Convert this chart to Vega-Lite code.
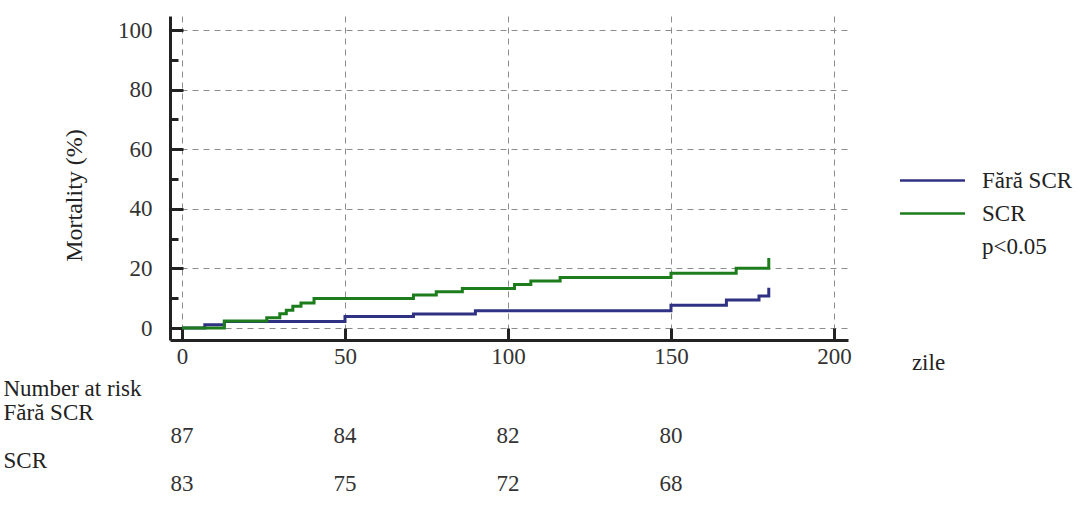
{
  "$schema": "https://vega.github.io/schema/vega-lite/v6.json",
  "background": "white",
  "padding": {"left": 3, "top": 16, "right": 0, "bottom": 0},
  "autosize": {"type": "pad"},
  "bounds": "flush",
  "spacing": 36,
  "config": {"view": {"stroke": null}, "font": "Liberation Serif, DejaVu Serif, serif"},
  "datasets": {
    "km": [
      {"group": "Fără SCR", "day": 0, "pct": 0},
      {"group": "Fără SCR", "day": 7, "pct": 1.1},
      {"group": "Fără SCR", "day": 13, "pct": 2.2},
      {"group": "Fără SCR", "day": 50, "pct": 3.9},
      {"group": "Fără SCR", "day": 71, "pct": 4.7},
      {"group": "Fără SCR", "day": 90, "pct": 5.8},
      {"group": "Fără SCR", "day": 150, "pct": 7.7},
      {"group": "Fără SCR", "day": 167, "pct": 9.4},
      {"group": "Fără SCR", "day": 177, "pct": 10.8},
      {"group": "Fără SCR", "day": 180, "pct": 13.5},
      {"group": "SCR", "day": 0, "pct": 0},
      {"group": "SCR", "day": 13, "pct": 2.4},
      {"group": "SCR", "day": 26, "pct": 3.5},
      {"group": "SCR", "day": 30, "pct": 4.8},
      {"group": "SCR", "day": 32, "pct": 6.0},
      {"group": "SCR", "day": 34, "pct": 7.3},
      {"group": "SCR", "day": 36.5, "pct": 8.4},
      {"group": "SCR", "day": 40.5, "pct": 9.9},
      {"group": "SCR", "day": 71, "pct": 11.1},
      {"group": "SCR", "day": 78, "pct": 12.2},
      {"group": "SCR", "day": 86, "pct": 13.3},
      {"group": "SCR", "day": 102, "pct": 14.6},
      {"group": "SCR", "day": 107, "pct": 15.8},
      {"group": "SCR", "day": 116, "pct": 17.0},
      {"group": "SCR", "day": 150, "pct": 18.4},
      {"group": "SCR", "day": 170, "pct": 20.1},
      {"group": "SCR", "day": 180, "pct": 23.5}
    ],
    "risk": [
      {"row": "n1", "day": 0, "n": 87},
      {"row": "n1", "day": 50, "n": 84},
      {"row": "n1", "day": 100, "n": 82},
      {"row": "n1", "day": 150, "n": 80},
      {"row": "n2", "day": 0, "n": 83},
      {"row": "n2", "day": 50, "n": 75},
      {"row": "n2", "day": 100, "n": 72},
      {"row": "n2", "day": 150, "n": 68}
    ]
  },
  "vconcat": [
    {
      "width": 678,
      "height": 324,
      "data": {"name": "km"},
      "mark": {"type": "line", "interpolate": "step-after", "strokeWidth": 3},
      "encoding": {
        "x": {
          "field": "day",
          "type": "quantitative",
          "scale": {"domain": [-3.68, 204.3], "nice": false, "zero": false},
          "axis": {
            "values": [0, 50, 100, 150, 200],
            "tickSize": -12,
            "tickWidth": 3,
            "tickColor": "#222222",
            "domainColor": "#222222",
            "domainWidth": 3,
            "labelFont": "Liberation Serif, DejaVu Serif, serif",
            "labelFontSize": 23,
            "labelColor": "#333333",
            "labelPadding": 17,
            "labelFlush": false,
            "labelOverlap": false,
            "grid": true,
            "gridDash": [6, 5],
            "gridColor": "#8c8c8c",
            "gridWidth": 1,
            "title": "zile",
            "titleFont": "Liberation Serif, DejaVu Serif, serif",
            "titleFontSize": 23,
            "titleFontWeight": "normal",
            "titleColor": "#222222",
            "titleX": 758,
            "titleY": 22,
            "titleAlign": "center",
            "titleBaseline": "middle"
          }
        },
        "y": {
          "field": "pct",
          "type": "quantitative",
          "scale": {"domain": [-4, 104.7], "nice": false, "zero": false},
          "axis": {
            "values": [0, 10, 20, 30, 40, 50, 60, 70, 80, 90, 100],
            "labelExpr": "datum.value % 20 === 0 ? datum.label : ''",
            "tickSize": {"condition": {"test": "datum.value % 20 === 0", "value": -13}, "value": -8},
            "tickWidth": 3,
            "tickColor": "#222222",
            "domainColor": "#222222",
            "domainWidth": 3,
            "labelFont": "Liberation Serif, DejaVu Serif, serif",
            "labelFontSize": 23,
            "labelColor": "#333333",
            "labelPadding": 31,
            "labelOverlap": false,
            "grid": true,
            "gridDash": [6, 5],
            "gridColor": "#8c8c8c",
            "gridWidth": 1,
            "gridOpacity": {"condition": {"test": "datum.value % 20 === 0", "value": 1}, "value": 0},
            "title": "Mortality (%)",
            "titleFont": "Liberation Serif, DejaVu Serif, serif",
            "titleFontSize": 24,
            "titleFontWeight": "normal",
            "titleColor": "#222222",
            "titleX": -96,
            "titleY": 179,
            "titleAngle": 270,
            "titleAlign": "center",
            "titleBaseline": "middle"
          }
        },
        "color": {
          "field": "group",
          "type": "nominal",
          "scale": {"domain": ["Fără SCR", "SCR", "p<0.05"], "range": ["#2f3182", "#1d7d1d", "rgba(0,0,0,0)"]},
          "legend": {
            "orient": "none",
            "legendX": 751,
            "legendY": 153,
            "title": null,
            "padding": 0,
            "symbolType": "M-4,0H4",
            "symbolSize": 264,
            "symbolStrokeWidth": 2.5,
            "labelFont": "Liberation Serif, DejaVu Serif, serif",
            "labelFontSize": 23,
            "labelColor": "#222222",
            "labelOffset": 38,
            "labelLimit": 300,
            "rowPadding": 9
          }
        }
      }
    },
    {
      "width": 678,
      "height": 120,
      "data": {"name": "risk"},
      "mark": {"type": "text", "font": "Liberation Serif, DejaVu Serif, serif", "fontSize": 23, "color": "#333333"},
      "encoding": {
        "x": {
          "field": "day",
          "type": "quantitative",
          "scale": {"domain": [-3.68, 204.3], "nice": false, "zero": false},
          "axis": null
        },
        "y": {
          "field": "row",
          "type": "nominal",
          "scale": {"domain": ["Number at risk", "Fără SCR", "n1", "SCR", "n2"], "paddingInner": 0, "paddingOuter": 0},
          "axis": {
            "title": null,
            "ticks": false,
            "tickSize": 0,
            "domain": false,
            "labelExpr": "datum.value === 'n1' || datum.value === 'n2' ? '' : datum.label",
            "labelAlign": "left",
            "labelBaseline": "middle",
            "labelPadding": 167,
            "labelLimit": 0,
            "labelFont": "Liberation Serif, DejaVu Serif, serif",
            "labelFontSize": 23,
            "labelColor": "#222222"
          }
        },
        "text": {"field": "n", "type": "quantitative"}
      }
    }
  ]
}
